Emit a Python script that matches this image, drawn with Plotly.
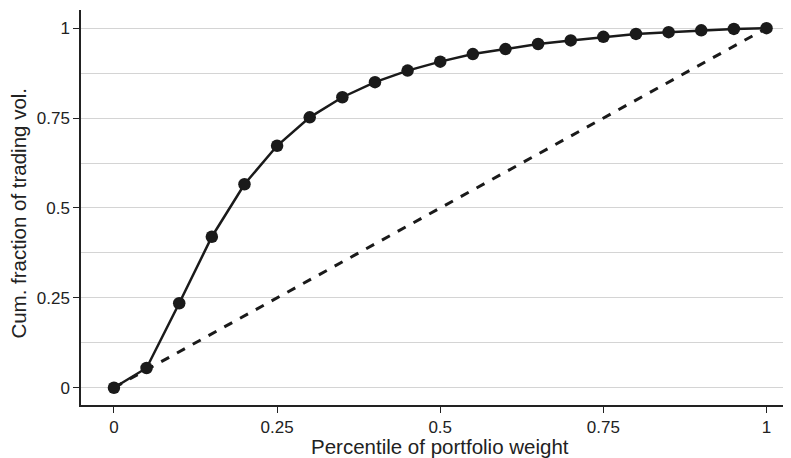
import plotly.graph_objects as go

pct = [0, 0.05, 0.1, 0.15, 0.2, 0.25, 0.3, 0.35, 0.4, 0.45, 0.5,
       0.55, 0.6, 0.65, 0.7, 0.75, 0.8, 0.85, 0.9, 0.95, 1.0]
cum_vol = [0, 0.055, 0.235, 0.42, 0.566, 0.673, 0.752, 0.808, 0.850, 0.882, 0.907,
           0.928, 0.942, 0.956, 0.966, 0.976, 0.984, 0.989, 0.994, 0.998, 1.0]
diag_x = [0, 1]
diag_y = [0, 1]
tick_vals = [0, 0.25, 0.5, 0.75, 1]
tick_text = ["0", "0.25", "0.5", "0.75", "1"]
x_title = "Percentile of portfolio weight"
y_title = "Cum. fraction of trading vol."

fig = go.Figure()
fig.add_trace(go.Scatter(x=diag_x, y=diag_y, mode="lines",
                         line=dict(color="#1a1a1a", width=3, dash="dash"),
                         showlegend=False, hoverinfo="skip"))
fig.add_trace(go.Scatter(x=pct, y=cum_vol, mode="lines+markers",
                         line=dict(color="#1a1a1a", width=2.5),
                         marker=dict(color="#1a1a1a", size=12.5),
                         showlegend=False))

font_family = "Liberation Sans, Arial, sans-serif"
# page body has an 8px default margin; the figure is sized to fill the rest
fig.update_layout(
    width=783, height=450,
    margin=dict(l=73, r=1, t=2, b=53),
    paper_bgcolor="white", plot_bgcolor="white",
    font=dict(family=font_family, size=17, color="#222"),
    xaxis=dict(range=[-0.0505, 1.036], tickvals=tick_vals, ticktext=tick_text,
               showgrid=False, zeroline=False, showline=True, linecolor="#222",
               linewidth=1.5, ticks="outside", ticklen=6, tickcolor="#222",
               tickfont=dict(size=17), automargin=False),
    yaxis=dict(range=[-0.048, 1.0506], tickvals=tick_vals, ticktext=tick_text,
               showgrid=True, gridcolor="#d4d4d4", gridwidth=1.2,
               minor=dict(dtick=0.125, tick0=0, showgrid=True, gridcolor="#d4d4d4", gridwidth=1.2, ticks=""),
               zeroline=False, showline=True, linecolor="#222",
               linewidth=1.5, ticks="outside", ticklen=6, tickcolor="#222",
               tickfont=dict(size=17), automargin=False),
    annotations=[
        dict(text=x_title, xref="paper", yref="paper", x=0.507, y=-0.1055,
             xanchor="center", yanchor="middle", showarrow=False,
             font=dict(size=20.5, color="#222")),
        dict(text=y_title, xref="paper", yref="paper", x=-0.0875, y=0.487,
             xanchor="center", yanchor="middle", showarrow=False, textangle=-90,
             font=dict(size=20.5, color="#222")),
    ],
)

fig.write_html("out.html")
